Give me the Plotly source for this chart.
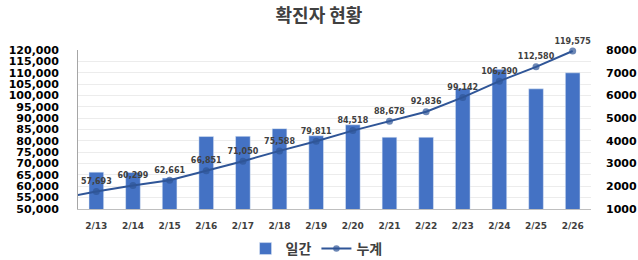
import plotly.graph_objects as go

# categories ("2/12" is a leading point that lies just outside the visible range)
dates = ["2/12", "2/13", "2/14", "2/15", "2/16", "2/17", "2/18", "2/19", "2/20",
         "2/21", "2/22", "2/23", "2/24", "2/25", "2/26"]
daily = [None, 2620, 2606, 2362, 4190, 4199, 4538, 4223, 4707,
         4160, 4158, 6306, 7148, 6290, 6995]
cumulative = [54600, 57693, 60299, 62661, 66851, 71050, 75588, 79811, 84518,
              88678, 92836, 99142, 106290, 112580, 119575]

left_ticks = list(range(50000, 120001, 5000))
right_ticks = list(range(1000, 8001, 1000))

labels = ["" if i == 0 else f"<b>{v:,}</b>" for i, v in enumerate(cumulative)]
msizes = [0 if i == 0 else 7 for i in range(len(dates))]

BAR = "#4472C4"
LINE = "#2F5597"
KFONT = "Noto Sans CJK KR"

fig = go.Figure()
fig.add_trace(go.Bar(
    x=dates, y=daily, name="<b>일간</b>", marker_color=BAR, width=0.4, yaxis="y",
))
fig.add_trace(go.Scatter(
    x=dates, y=cumulative, name="<b>누계</b>", mode="lines+markers+text", yaxis="y2",
    line=dict(color=LINE, width=2),
    marker=dict(color=LINE, size=msizes, line=dict(width=0)),
    text=labels, textposition="top center",
    textfont=dict(family="DejaVu Sans", size=8, color="#404040"),
    cliponaxis=False,
))

fig.update_layout(
    width=638, height=260,
    margin=dict(l=78, r=47, t=50, b=51, autoexpand=False),
    paper_bgcolor="white", plot_bgcolor="white",
    title=dict(text="<b>확진자 현황</b>", x=0.5, xanchor="center",
               yref="container", y=(260 - 16) / 260, yanchor="middle",
               font=dict(family=KFONT, size=18, color="#404040")),
    showlegend=True,
    legend=dict(orientation="h", x=0.465, xanchor="center",
                yref="container", y=(260 - 249) / 260, yanchor="middle",
                font=dict(family=KFONT, size=14, color="#404040"),
                traceorder="normal", itemwidth=30),
    xaxis=dict(type="category", range=[0.5, 14.5], showline=True, linecolor="#bfbfbf",
               ticks="", tickfont=dict(family="DejaVu Sans", size=9, color="#404040", weight="bold"),
               showgrid=False, ticklabelstandoff=8, automargin=False),
    yaxis=dict(side="right", range=[1000, 8000], tickvals=right_ticks,
               ticktext=[str(v) for v in right_ticks],
               tickfont=dict(family="DejaVu Sans", size=11, color="#000000", weight="bold"),
               showgrid=True, gridcolor="#ececec", gridwidth=1,
               minor=dict(dtick=500, showgrid=True, gridcolor="#ececec"),
               showline=False, zeroline=False, ticks="", ticklabelstandoff=14, automargin=False),
    yaxis2=dict(overlaying="y", side="left", range=[50000, 120000], tickvals=left_ticks,
                ticktext=[f"{v:,}" for v in left_ticks],
                tickfont=dict(family="DejaVu Sans", size=11, color="#000000", weight="bold"),
                showgrid=False, showline=True, linecolor="#a6a6a6", zeroline=False, ticks="",
                ticklabelstandoff=16, automargin=False),
)

fig.write_html("out.html")
